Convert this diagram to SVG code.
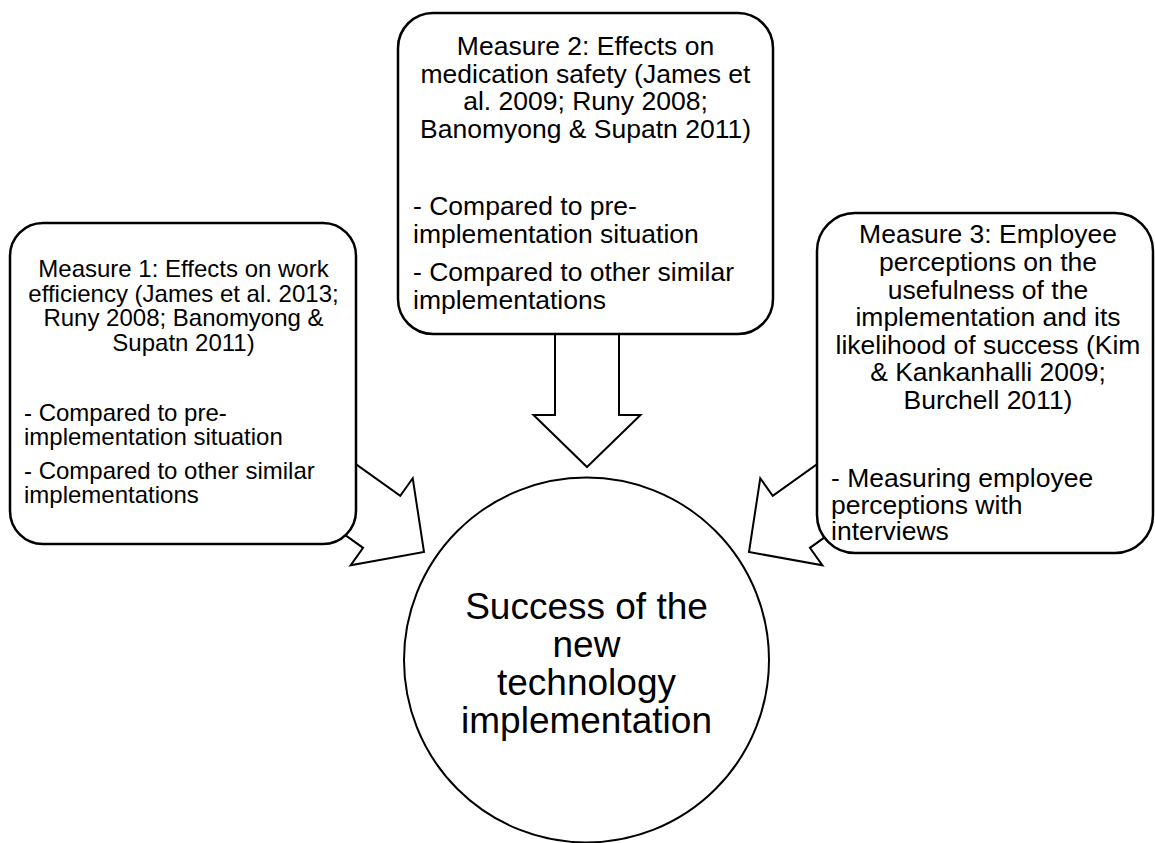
<svg xmlns="http://www.w3.org/2000/svg" width="1155" height="843" viewBox="0 0 1155 843">
  <style>
    .box { fill: #ffffff; stroke: #000000; stroke-width: 2.5; }
    .hub { fill: #ffffff; stroke: #000000; stroke-width: 2; }
    .arrow { fill: #ffffff; stroke: #000000; stroke-width: 2; stroke-linejoin: miter; }
    text { font-family: "Liberation Sans", Arial, sans-serif; fill: #000000; }
    .s24 { font-size: 24px; }
    .s26 { font-size: 26.5px; }
    .s37 { font-size: 37px; }
    .mid { text-anchor: middle; }
  </style>
  <defs>
    <!-- block arrow: tip at origin, pointing along +x -->
    <path id="blockArrow" d="M0,0 L-52,-53.5 L-52,-32 L-140,-32 L-140,32 L-52,32 L-52,53.5 Z"/>
    <path id="blockArrowDown" d="M0,0 L-52,-53.5 L-52,-32 L-133,-32 L-133,32 L-52,32 L-52,53.5 Z"/>
  </defs>
  <rect width="1155" height="843" fill="#ffffff"/>

  <g id="connectors">
    <use href="#blockArrow" class="arrow" transform="translate(424,552) rotate(35.5)"/>
    <use href="#blockArrowDown" class="arrow" transform="translate(587,467) rotate(90)"/>
    <use href="#blockArrow" class="arrow" transform="translate(749,552) rotate(144.5)"/>
  </g>

  <g id="measure1">
    <rect class="box" x="10" y="223" width="346" height="321" rx="33" ry="33"/>
    <text class="s24 mid" x="183.5" y="276.7">Measure 1: Effects on work</text>
    <text class="s24 mid" x="183.5" y="301.5">efficiency (James et al. 2013;</text>
    <text class="s24 mid" x="183.5" y="326">Runy 2008; Banomyong &amp;</text>
    <text class="s24 mid" x="183.5" y="351">Supatn 2011)</text>
    <text class="s24" x="24" y="421">- Compared to pre-</text>
    <text class="s24" x="24" y="445">implementation situation</text>
    <text class="s24" x="24" y="479">- Compared to other similar</text>
    <text class="s24" x="24" y="503">implementations</text>
  </g>

  <g id="measure2">
    <rect class="box" x="398" y="13" width="375" height="321" rx="35" ry="35"/>
    <text class="s26 mid" x="585.5" y="55">Measure 2: Effects on</text>
    <text class="s26 mid" x="585.5" y="82.7">medication safety (James et</text>
    <text class="s26 mid" x="585.5" y="110">al. 2009; Runy 2008;</text>
    <text class="s26 mid" x="585.5" y="137.7">Banomyong &amp; Supatn 2011)</text>
    <text class="s26" x="413" y="215">- Compared to pre-</text>
    <text class="s26" x="413" y="242.5">implementation situation</text>
    <text class="s26" x="413" y="281">- Compared to other similar</text>
    <text class="s26" x="413" y="308.5">implementations</text>
  </g>

  <g id="measure3">
    <rect class="box" x="817" y="213" width="336" height="340" rx="38" ry="38"/>
    <text class="s26 mid" x="988" y="243.3">Measure 3: Employee</text>
    <text class="s26 mid" x="988" y="271">perceptions on the</text>
    <text class="s26 mid" x="988" y="298.5">usefulness of the</text>
    <text class="s26 mid" x="988" y="326">implementation and its</text>
    <text class="s26 mid" x="988" y="353.5">likelihood of success (Kim</text>
    <text class="s26 mid" x="988" y="381">&amp; Kankanhalli 2009;</text>
    <text class="s26 mid" x="988" y="408.5">Burchell 2011)</text>
    <text class="s26" x="831" y="486.5">- Measuring employee</text>
    <text class="s26" x="831" y="513.5">perceptions with</text>
    <text class="s26" x="831" y="540">interviews</text>
  </g>

  <g id="success">
    <circle class="hub" cx="586.5" cy="660" r="182.5"/>
    <text class="s37 mid" x="586.5" y="619">Success of the</text>
    <text class="s37 mid" x="586.5" y="657">new</text>
    <text class="s37 mid" x="586.5" y="695">technology</text>
    <text class="s37 mid" x="586.5" y="733">implementation</text>
  </g>
</svg>
